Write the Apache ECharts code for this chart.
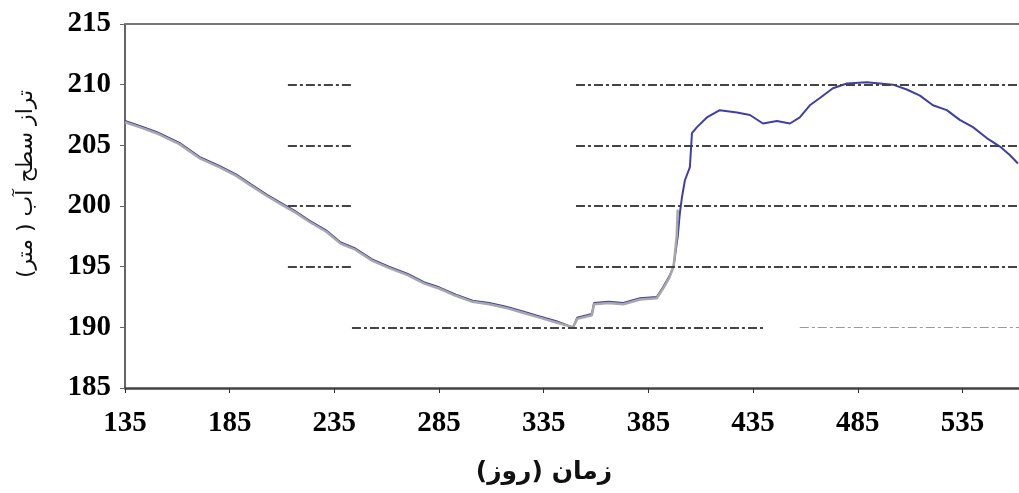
<!DOCTYPE html>
<html><head><meta charset="utf-8">
<script src="https://cdn.jsdelivr.net/npm/echarts@6/dist/echarts.min.js"></script>
<style>html,body{margin:0;padding:0;background:#fff}#c{width:1019px;height:493px}</style>
</head><body><div id="c"></div>
<script>
// Day values (x) and water level (m) readings
const blueX = [135,142,150,161,171,180,188,195,203,209,216,223,231,238,245,253,261,270,278,285,293,301,309,317,325,333,341,349,351,358,359,366,373,381,389,392,395,397,399,400,401,402.4,404.8,405.8,408.2,412.9,419.1,427.3,433.5,439.7,446.4,452.6,457.3,462.1,466.9,473.1,479.8,489.3,501.8,508.4,514.7,520.9,527.5,533.7,540,546.6,552.9,557.6,561.5];
const blueY = [207.0,206.6,206.1,205.2,204.0,203.3,202.6,201.8,200.9,200.3,199.6,198.8,198.0,197.0,196.5,195.6,195.0,194.4,193.7,193.3,192.7,192.2,192.0,191.7,191.3,190.9,190.5,190.0,190.8,191.1,192.0,192.1,192.0,192.4,192.5,193.3,194.2,195.0,197.5,199.4,200.7,202.1,203.2,206.0,206.5,207.3,207.9,207.7,207.5,206.8,207.0,206.8,207.3,208.3,208.9,209.7,210.1,210.2,210.0,209.6,209.1,208.3,207.9,207.1,206.5,205.6,204.9,204.2,203.5];
const grayX = [135,142,150,161,171,180,188,195,203,209,216,223,231,238,245,253,261,270,278,285,293,301,309,317,325,333,341,349,351,358,359,366,373,381,389,392,395,397,398.5,399];
const grayY = [206.9,206.5,206.0,205.1,203.9,203.2,202.5,201.7,200.8,200.2,199.5,198.7,197.9,196.9,196.4,195.5,194.9,194.3,193.6,193.2,192.6,192.1,191.9,191.6,191.2,190.8,190.4,190.0,190.7,191.0,191.9,192.0,191.9,192.3,192.4,193.2,194.1,195.0,197.5,199.7];
const xTicks = [135,185,235,285,335,385,435,485,535];
const yTicks = [185,190,195,200,205,210,215];
// Partial horizontal guide lines seen in the reference: [level, fromDay, toDay]
const guideDark = [[210,212.8,243.4],[210,350.4,562],[205,212.8,243.4],[205,350.4,562],[200,212.8,243.4],[200,350.4,562],[195,212.8,243.4],[195,350.4,562],[190,243.4,440.6],[215,140,440.6]];
const guideLight = [[190,457.3,562],[215,457.3,562]];

const zip = (xs, ys) => xs.map((x, i) => [x, ys[i]]);
const seg = arr => arr.map(s => [{coord:[s[1], s[0]]},{coord:[s[2], s[0]]}]);

const chart = echarts.init(document.getElementById('c'));
chart.setOption({
  animation:false,
  grid:{left:125, top:24, right:0, bottom:105, containLabel:false},
  xAxis:{
    type:'value', min:135, max:562, interval:50,
    name:'زمان (روز)', nameLocation:'middle', nameGap:72,
    nameTextStyle:{fontFamily:'DejaVu Sans', fontWeight:'bold', fontSize:25, color:'#111', padding:[0,56,0,0]},
    axisLine:{lineStyle:{color:'#444', width:2.5}},
    axisTick:{show:true, length:5, lineStyle:{color:'#333'}},
    axisLabel:{fontFamily:'Liberation Serif', fontWeight:'bold', fontSize:29, color:'#000', margin:21, showMaxLabel:false},
    splitLine:{show:false}
  },
  yAxis:{
    type:'value', min:185, max:215, interval:5,
    name:'تراز سطح آب ( متر)', nameLocation:'middle', nameGap:88,
    nameTextStyle:{fontFamily:'DejaVu Sans', fontSize:22, color:'#111', padding:[0,0,0,44]},
    axisLine:{show:true, lineStyle:{color:'#666', width:2}},
    axisTick:{show:true, length:5, lineStyle:{color:'#666'}},
    axisLabel:{fontFamily:'Liberation Serif', fontWeight:'bold', fontSize:29, color:'#000', margin:14},
    splitLine:{show:false}
  },
  series:[
    {type:'line', data:[], silent:true,
     markLine:{silent:true, symbol:['none','none'], label:{show:false},
       lineStyle:{color:'#444', width:2, type:[9,3,3,3]}, data:seg(guideDark)}},
    {type:'line', data:[], silent:true,
     markLine:{silent:true, symbol:['none','none'], label:{show:false},
       lineStyle:{color:'#999', width:1.2, type:[9,3,3,3]}, data:seg(guideLight)}},
    {type:'line', data:[], silent:true,
     markLine:{silent:true, symbol:['none','none'], label:{show:false},
       lineStyle:{color:'#777', width:2, type:'solid'}, data:[[{coord:[135,215]},{coord:[562,215]}]]}},
    {type:'line', name:'blue', data:zip(blueX, blueY), showSymbol:false, smooth:false,
     lineStyle:{color:'#3f3fa8', width:2}, z:3},
    {type:'line', name:'gray', data:zip(grayX, grayY), showSymbol:false, smooth:false,
     lineStyle:{color:'#a8a8a8', width:2.5}, z:4}
  ]
});
</script></body></html>
